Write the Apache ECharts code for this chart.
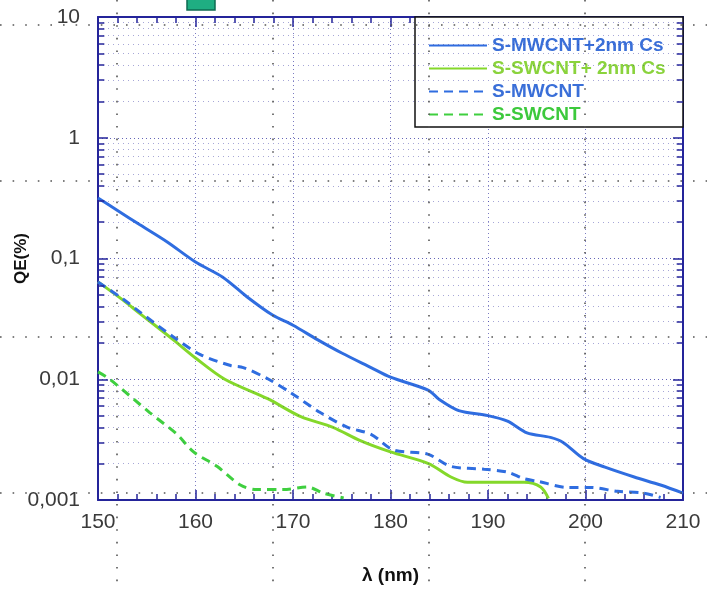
<!DOCTYPE html>
<html>
<head>
<meta charset="utf-8">
<script src="https://cdn.jsdelivr.net/npm/echarts@6.0.0/dist/echarts.min.js"></script>
<style>
  html, body { margin: 0; padding: 0; background: #fff; }
  #chart { width: 707px; height: 592px; }
</style>
</head>
<body>
<div id="chart"></div>
<script>
// wavelength (nm) / QE (%) pairs
const mwcntCsX = [150, 152, 154.3, 157.1, 160, 162.8, 165.3, 167.9, 170, 172.5, 175, 178, 180, 183.9, 185, 187, 190, 192, 194, 196.4, 197.7, 199.8, 202, 205, 207.7, 210];
const mwcntCsY = [0.317, 0.25, 0.19, 0.137, 0.0935, 0.07, 0.048, 0.034, 0.028, 0.0213, 0.0165, 0.0125, 0.0104, 0.0081, 0.0068, 0.0055, 0.005, 0.0045, 0.0036, 0.0033, 0.003, 0.0022, 0.00187, 0.00155, 0.00133, 0.00114];

const swcntCsX = [150, 152.6, 154.3, 157.7, 160, 163, 167.4, 170.8, 174.1, 176.9, 180, 183.9, 186.2, 187.9, 191.6, 193.7, 195.4, 196.2];
const swcntCsY = [0.064, 0.045, 0.035, 0.0213, 0.015, 0.01, 0.0069, 0.0049, 0.004, 0.0031, 0.0025, 0.002, 0.00155, 0.0014, 0.0014, 0.0014, 0.00128, 0.00103];

const mwcntX = [150, 152.6, 154.3, 157.7, 160.5, 163.6, 164.9, 167.5, 169.7, 172.8, 175.6, 178, 180.3, 183.8, 186.2, 189.6, 192, 193.7, 195.1, 198.2, 200.5, 203.3, 206, 207.7];
const mwcntY = [0.064, 0.046, 0.036, 0.0225, 0.016, 0.013, 0.0125, 0.01, 0.0078, 0.0053, 0.004, 0.0035, 0.0026, 0.0024, 0.0019, 0.0018, 0.0017, 0.0015, 0.00143, 0.00127, 0.00127, 0.00118, 0.00114, 0.00105];

const swcntX = [150, 151.2, 155.3, 158.1, 159.8, 162.2, 164.6, 166.3, 169, 171.5, 173.1, 175.2];
const swcntY = [0.0115, 0.01, 0.0053, 0.0035, 0.0025, 0.0019, 0.00133, 0.00122, 0.00122, 0.00128, 0.00114, 0.00104];

const seriesNames = ['S-MWCNT+2nm Cs', 'S-SWCNT+ 2nm Cs', 'S-MWCNT', 'S-SWCNT'];
const yTickLabels = ['0,001', '0,01', '0,1', '1', '10'];
// log minor ticks: 2..9 inside each decade
const yDecades = [0.001, 0.01, 0.1, 1];
const yMinorSteps = [2, 3, 4, 5, 6, 7, 8, 9];

function pairs(xs, ys) {
  return xs.map((x, i) => [x, ys[i]]);
}

const minorValues = [];
yDecades.forEach(d => yMinorSteps.forEach(m => minorValues.push(+(d * m).toPrecision(3))));

const navy = '#24249a';
const font = 'Liberation Sans, Arial, sans-serif';
const xMin = 150, xMax = 210, tickNm = 0.65;

// dotted scan artefacts (page coordinates, decoration only)
const dotted = [];
[25, 181, 337, 493].forEach(y => dotted.push({
  type: 'line', z: 10, silent: true,
  shape: { x1: 0, y1: y, x2: 707, y2: y },
  style: { stroke: '#555', lineWidth: 1.6, lineDash: [1.6, 11] }
}));
[117, 273, 429, 585].forEach(x => dotted.push({
  type: 'line', z: 10, silent: true,
  shape: { x1: x, y1: 0, x2: x, y2: 592 },
  style: { stroke: '#555', lineWidth: 1.6, lineDash: [1.6, 11] }
}));

const minorGrid = minorValues.map(v => [{ coord: [xMin, v] }, { coord: [xMax, v] }]);
const minorTicks = [];
minorValues.forEach(v => {
  minorTicks.push([{ coord: [xMin, v] }, { coord: [xMin + tickNm, v] }]);
  minorTicks.push([{ coord: [xMax - tickNm, v] }, { coord: [xMax, v] }]);
});

const logAxisBase = {
  type: 'log', logBase: 10, min: 0.001, max: 10,
  axisLine: { lineStyle: { color: navy, width: 2 } },
  axisTick: { inside: true, length: 10, lineStyle: { color: navy, width: 1.5 } },
  minorTick: { show: false },
  minorSplitLine: { show: false }
};

const chart = echarts.init(document.getElementById('chart'));
chart.setOption({
  animation: false,
  textStyle: { fontFamily: font },
  grid: { left: 98, right: 24, top: 17, bottom: 92, containLabel: false, outerBoundsMode: 'none' },
  graphic: [
    { type: 'rect', z: 1, shape: { x: 415, y: 17, width: 268, height: 110 },
      style: { fill: '#fff', stroke: '#111', lineWidth: 1.5 } },
    { type: 'rect', z: 1, shape: { x: 187, y: -3, width: 28, height: 13 },
      style: { fill: '#1fae82', stroke: '#0e6b52', lineWidth: 1.5 } }
  ].concat(dotted),
  legend: {
    orient: 'vertical',
    left: 423,
    top: 31,
    z: 5,
    itemWidth: 58,
    itemHeight: 14,
    itemGap: 4,
    itemStyle: { opacity: 0 },
    textStyle: { fontFamily: font, fontSize: 19, fontWeight: 'bold', lineHeight: 18 },
    data: [
      { name: seriesNames[0], textStyle: { color: '#3a6fd8' } },
      { name: seriesNames[1], textStyle: { color: '#8ad33c' } },
      { name: seriesNames[2], textStyle: { color: '#3a6fd8' } },
      { name: seriesNames[3], textStyle: { color: '#3cc93c' } }
    ]
  },
  xAxis: [
    {
      type: 'value', min: xMin, max: xMax, interval: 10,
      name: 'λ (nm)', nameLocation: 'middle', nameGap: 66,
      nameTextStyle: { fontSize: 19, fontWeight: 'bold', color: '#111', fontFamily: font },
      axisLine: { lineStyle: { color: navy, width: 2 } },
      axisTick: { inside: true, length: 10, lineStyle: { color: navy, width: 1.5 } },
      minorTick: { show: true, splitNumber: 5, length: 6, lineStyle: { color: navy, width: 1.5 } },
      splitLine: { show: true, lineStyle: { color: navy, width: 1, type: [1, 3], opacity: 0.6 } },
      axisLabel: { fontSize: 21, color: '#3a3a3a', margin: 12 }
    },
    {
      type: 'value', min: xMin, max: xMax, interval: 10, position: 'top',
      axisLine: { lineStyle: { color: navy, width: 2 } },
      axisTick: { inside: true, length: 10, lineStyle: { color: navy, width: 1.5 } },
      minorTick: { show: true, splitNumber: 5, length: 6, lineStyle: { color: navy, width: 1.5 } },
      splitLine: { show: false },
      axisLabel: { show: false }
    }
  ],
  yAxis: [
    Object.assign({}, logAxisBase, {
      name: 'QE(%)', nameLocation: 'middle', nameGap: 68, nameRotate: 90, nameMoveOverlap: false,
      nameTextStyle: { fontSize: 17, fontWeight: 'bold', color: '#111', fontFamily: font },
      splitLine: { show: true, lineStyle: { color: navy, width: 1, type: [1, 3], opacity: 0.7 } },
      axisLabel: {
        fontSize: 21, color: '#3a3a3a', margin: 18,
        formatter: v => yTickLabels[Math.round(Math.log10(v)) + 3] || ''
      }
    }),
    Object.assign({}, logAxisBase, {
      position: 'right',
      splitLine: { show: false },
      axisLabel: { show: false }
    })
  ],
  series: [
    { name: seriesNames[0], type: 'line', data: pairs(mwcntCsX, mwcntCsY), symbol: 'none', smooth: 0.3,
      color: '#2f6de0', lineStyle: { width: 3, color: '#2f6de0' }, z: 4 },
    { name: seriesNames[1], type: 'line', data: pairs(swcntCsX, swcntCsY), symbol: 'none', smooth: 0.3,
      color: '#84d82a', lineStyle: { width: 3, color: '#84d82a' }, z: 3 },
    { name: seriesNames[2], type: 'line', data: pairs(mwcntX, mwcntY), symbol: 'none', smooth: 0.3,
      color: '#2f6de0', lineStyle: { width: 3, color: '#2f6de0', type: [9, 6] }, z: 4 },
    { name: seriesNames[3], type: 'line', data: pairs(swcntX, swcntY), symbol: 'none', smooth: 0.3,
      color: '#3fcf3f', lineStyle: { width: 3, color: '#3fcf3f', type: [9, 6] }, z: 3 },
    // minor grid lines and inside minor ticks of the log axis
    { name: 'minorGrid', type: 'line', data: [], z: 1, silent: true,
      markLine: { silent: true, symbol: ['none', 'none'], label: { show: false },
        lineStyle: { color: navy, width: 1, type: [1, 4], opacity: 0.4 }, data: minorGrid } },
    { name: 'minorTicks', type: 'line', data: [], z: 2, silent: true,
      markLine: { silent: true, symbol: ['none', 'none'], label: { show: false },
        lineStyle: { color: navy, width: 1.5, type: 'solid', opacity: 1 }, data: minorTicks } }
  ]
});
</script>
</body>
</html>
